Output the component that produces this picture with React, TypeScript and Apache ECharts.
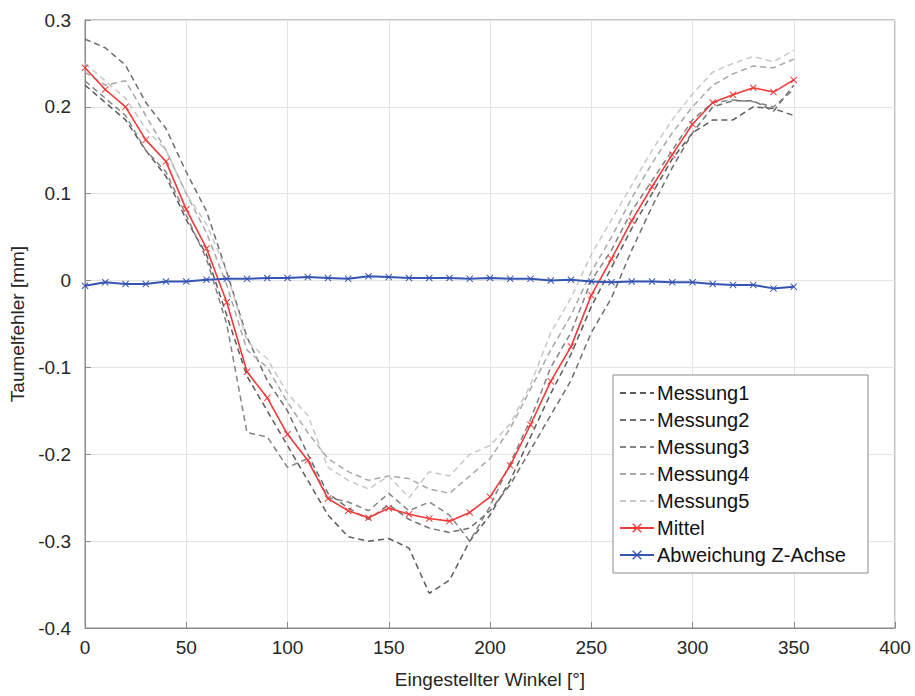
import React, { useEffect, useRef } from "react";
import * as echarts from "echarts";

const angles = [0, 10, 20, 30, 40, 50, 60, 70, 80, 90, 100, 110, 120, 130, 140, 150, 160, 170, 180, 190, 200, 210, 220, 230, 240, 250, 260, 270, 280, 290, 300, 310, 320, 330, 340, 350];

const messung1 = [0.225, 0.205, 0.185, 0.150, 0.120, 0.070, 0.030, -0.040, -0.110, -0.150, -0.190, -0.230, -0.270, -0.295, -0.300, -0.297, -0.308, -0.360, -0.345, -0.300, -0.270, -0.230, -0.180, -0.130, -0.085, -0.030, 0.015, 0.060, 0.100, 0.140, 0.170, 0.185, 0.185, 0.200, 0.198, 0.190];
const messung2 = [0.278, 0.268, 0.248, 0.205, 0.175, 0.125, 0.080, 0.010, -0.065, -0.115, -0.150, -0.200, -0.245, -0.262, -0.275, -0.258, -0.275, -0.285, -0.290, -0.285, -0.265, -0.235, -0.195, -0.155, -0.115, -0.060, -0.020, 0.035, 0.085, 0.130, 0.170, 0.200, 0.207, 0.207, 0.195, 0.225];
const messung3 = [0.230, 0.210, 0.190, 0.150, 0.125, 0.075, 0.025, -0.050, -0.175, -0.180, -0.215, -0.205, -0.250, -0.255, -0.265, -0.245, -0.265, -0.255, -0.270, -0.300, -0.260, -0.210, -0.160, -0.100, -0.060, 0.000, 0.035, 0.080, 0.115, 0.150, 0.185, 0.205, 0.208, 0.206, 0.200, 0.220];
const messung4 = [0.240, 0.225, 0.230, 0.190, 0.150, 0.100, 0.055, -0.005, -0.080, -0.100, -0.140, -0.175, -0.205, -0.220, -0.230, -0.225, -0.228, -0.240, -0.245, -0.225, -0.205, -0.170, -0.125, -0.080, -0.040, 0.010, 0.050, 0.095, 0.135, 0.170, 0.200, 0.225, 0.238, 0.247, 0.245, 0.255];
const messung5 = [0.250, 0.230, 0.210, 0.175, 0.150, 0.100, 0.065, 0.010, -0.070, -0.090, -0.130, -0.155, -0.215, -0.230, -0.240, -0.225, -0.250, -0.220, -0.225, -0.200, -0.190, -0.165, -0.120, -0.060, -0.020, 0.030, 0.070, 0.110, 0.150, 0.185, 0.215, 0.240, 0.250, 0.258, 0.252, 0.265];
const mittel = [0.245, 0.220, 0.200, 0.162, 0.137, 0.082, 0.037, -0.025, -0.105, -0.135, -0.177, -0.207, -0.251, -0.265, -0.273, -0.262, -0.269, -0.274, -0.277, -0.267, -0.249, -0.213, -0.166, -0.116, -0.076, -0.017, 0.025, 0.069, 0.108, 0.145, 0.180, 0.205, 0.214, 0.222, 0.217, 0.231];
const abweichung = [-0.006, -0.002, -0.004, -0.004, -0.001, -0.001, 0.001, 0.002, 0.002, 0.003, 0.003, 0.004, 0.003, 0.002, 0.005, 0.004, 0.003, 0.003, 0.003, 0.002, 0.003, 0.002, 0.002, 0.000, 0.001, -0.001, -0.002, -0.001, -0.001, -0.002, -0.002, -0.004, -0.005, -0.005, -0.009, -0.007];

const messungNames = ["Messung1", "Messung2", "Messung3", "Messung4", "Messung5"];
const messungColors = ["#5c5c5c", "#6e6e6e", "#838383", "#a8a8a8", "#c8c8c8"];

const xSymbol = "path://M0,1L1,0L5,4L9,0L10,1L6,5L10,9L9,10L5,6L1,10L0,9L4,5Z";
const FONT = "Liberation Sans, Arial, Helvetica, sans-serif";

export default function App() {
  const ref = useRef<HTMLDivElement>(null);
  useEffect(() => {
    if (!ref.current) return;
    const chart = echarts.init(ref.current, null, { renderer: "svg" });
    const pair = (ys: number[]) => angles.map((a, i) => [a, ys[i]]);
    const measSets = [messung1, messung2, messung3, messung4, messung5];
    const series: any[] = measSets.map((ys, k) => ({
      name: messungNames[k],
      type: "line",
      data: pair(ys),
      showSymbol: false,
      symbol: "none",
      lineStyle: { color: messungColors[k], width: 1.5, type: [6, 4] },
      itemStyle: { color: messungColors[k] },
      z: 2,
    }));
    series.push({
      name: "Mittel",
      type: "line",
      data: pair(mittel),
      symbol: xSymbol,
      symbolSize: 7,
      lineStyle: { color: "#f23a3a", width: 1.6 },
      itemStyle: { color: "#f23a3a" },
      z: 4,
    });
    series.push({
      name: "Abweichung Z-Achse",
      type: "line",
      data: pair(abweichung),
      symbol: xSymbol,
      symbolSize: 7,
      lineStyle: { color: "#3555b5", width: 2 },
      itemStyle: { color: "#3555b5" },
      z: 4,
    });
    const legendData: any[] = [
      ...messungNames.map((n) => ({ name: n, itemStyle: { opacity: 0 } })),
      "Mittel",
      "Abweichung Z-Achse",
    ];
    chart.setOption({
      animation: false,
      backgroundColor: "#ffffff",
      textStyle: { fontFamily: FONT },
      grid: {
        left: 80,
        right: 20,
        top: 20,
        bottom: 68,
        show: true,
        borderColor: "#8a8a8a",
        borderWidth: 1,
        backgroundColor: "transparent",
      },
      legend: {
        orient: "vertical",
        left: 613,
        top: 375,
        padding: [8, 22, 8, 6],
        itemGap: 7,
        itemWidth: 34,
        itemHeight: 12,
        backgroundColor: "#ffffff",
        borderColor: "#8a8a8a",
        borderWidth: 1,
        data: legendData,
        textStyle: { fontSize: 20, color: "#111", fontFamily: FONT, padding: [0, 0, 0, -2] },
      },
      xAxis: {
        type: "value",
        min: 0,
        max: 400,
        interval: 50,
        name: "Eingestellter Winkel [°]",
        nameLocation: "middle",
        nameGap: 42,
        nameTextStyle: { fontSize: 19, color: "#262626", fontFamily: FONT },
        axisLine: { show: true, onZero: false, lineStyle: { color: "#8a8a8a" } },
        axisTick: { show: true, inside: true, length: 6, lineStyle: { color: "#8a8a8a" } },
        axisLabel: { fontSize: 19, color: "#262626", margin: 10, fontFamily: FONT },
        splitLine: { show: true, lineStyle: { color: "#e3e3e3", width: 1 } },
      },
      yAxis: {
        type: "value",
        min: -0.4,
        max: 0.3,
        interval: 0.1,
        name: "Taumelfehler [mm]",
        nameLocation: "middle",
        nameGap: 58,
        nameTextStyle: { fontSize: 19, color: "#262626", fontFamily: FONT },
        axisLine: { show: true, onZero: false, lineStyle: { color: "#8a8a8a" } },
        axisTick: { show: true, inside: true, length: 6, lineStyle: { color: "#8a8a8a" } },
        axisLabel: {
          fontSize: 19,
          color: "#262626",
          margin: 14,
          fontFamily: FONT,
          formatter: (v: number) => String(Number(v.toFixed(1))),
        },
        splitLine: { show: true, lineStyle: { color: "#e3e3e3", width: 1 } },
      },
      series,
    });
    return () => chart.dispose();
  }, []);
  return <div ref={ref} style={{ width: 915, height: 696, position: "absolute", left: 0, top: 0 }} />;
}
